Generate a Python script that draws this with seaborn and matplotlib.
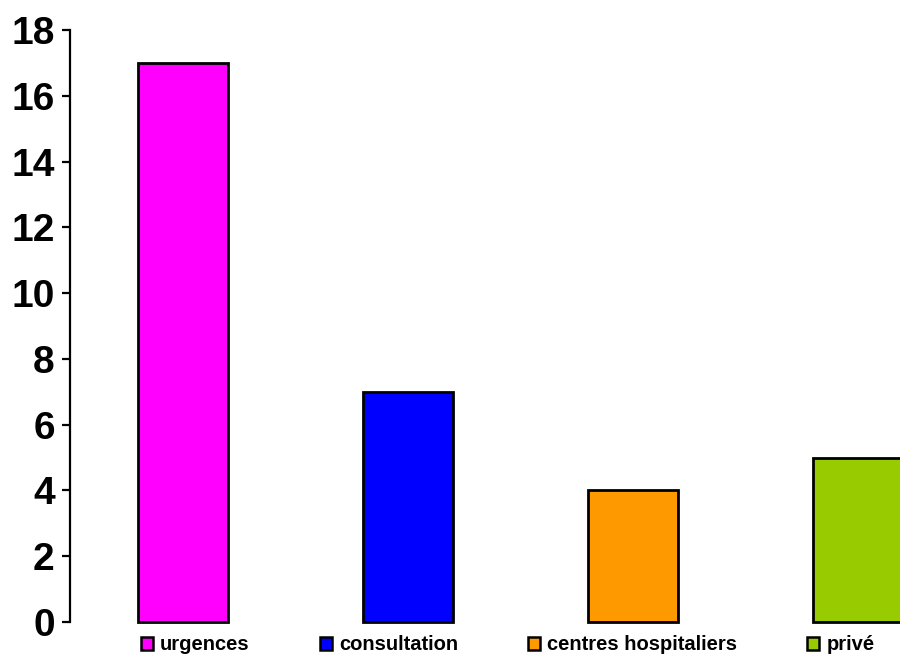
import matplotlib
matplotlib.use("Agg")
import matplotlib.pyplot as plt
from matplotlib.patches import Patch
import seaborn as sns

categories = ["urgences", "consultation", "centres hospitaliers", "privé"]
values = [17, 7, 4, 5]
colors = ["#FF00FF", "#0000FF", "#FF9900", "#99CC00"]
yticks = [0, 2, 4, 6, 8, 10, 12, 14, 16, 18]

sns.set_style("white")
plt.rcParams["font.family"] = ["Liberation Sans", "DejaVu Sans"]
plt.rcParams["text.color"] = "black"
plt.rcParams["ytick.color"] = "black"
plt.rcParams["axes.labelcolor"] = "black"

fig = plt.figure(figsize=(9, 6.55), dpi=100)
ax = fig.add_axes([70 / 900, 33 / 655, 1 - 70 / 900, 592 / 655])

sns.barplot(x=categories, y=values, hue=categories, palette=colors,
            saturation=1, width=0.4, edgecolor="black", linewidth=2,
            legend=False, ax=ax, order=categories, hue_order=categories)
for p in ax.patches:
    p.set_clip_on(False)

ax.set_xlim(-0.502, 3.187)
ax.set_ylim(0, 18)
ax.set_yticks(yticks)
ax.set_yticklabels([str(t) for t in yticks], fontsize=28, fontweight="bold",
                   color="black")
ax.set_xticks([])
ax.set_xlabel("")
ax.set_ylabel("")

for side in ["top", "right", "bottom"]:
    ax.spines[side].set_visible(False)
ax.spines["left"].set_linewidth(1.6)
ax.spines["left"].set_color("black")
ax.tick_params(axis="y", direction="out", length=6, width=1.6,
               color="black", labelcolor="black", pad=5, left=True)

handles = [Patch(facecolor=c, edgecolor="black", linewidth=1.8) for c in colors]
fig.legend(handles, categories, loc="center left",
           bbox_to_anchor=(141 / 900, 10 / 655), ncol=4, frameon=False,
           prop={"size": 14.5, "weight": "bold"}, labelcolor="black",
           handlelength=0.6, handleheight=0.6, handletextpad=0.35,
           columnspacing=3.48, borderpad=0, borderaxespad=0)

fig.savefig("out.png", dpi=100)
